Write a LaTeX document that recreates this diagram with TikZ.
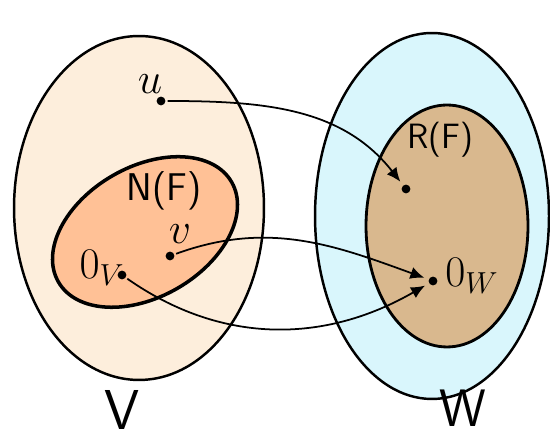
\documentclass[tikz,border=0pt]{standalone}
\usetikzlibrary{shapes.geometric,arrows.meta}
\definecolor{vfill}{HTML}{FDEEDC}
\definecolor{nfill}{HTML}{FFC196}
\definecolor{wfill}{HTML}{D9F6FC}
\definecolor{rfill}{HTML}{D9B88E}
\begin{document}
\begin{tikzpicture}[x=0.02cm,y=0.02cm,
  setell/.style={ellipse,draw=black,inner sep=0pt},
  pt/.style={circle,fill=black,inner sep=0pt,minimum size=5pt},
  maparrow/.style={draw=black,line width=1pt,-{Latex[length=8pt,width=7pt]},shorten >=2.5pt,shorten <=1pt},
  lab/.style={inner sep=0pt,text=black}]
\useasboundingbox (0,0) rectangle (550,438);
\fill[white] (0,0) rectangle (550,438);
% sets
\node[setell,fill=vfill,line width=1.4pt,minimum width=5cm,minimum height=6.88cm] (V) at (139,230) {};
\node[setell,fill=wfill,line width=1.4pt,minimum width=4.68cm,minimum height=7.32cm] (W) at (432,222) {};
\node[setell,fill=nfill,line width=2pt,minimum width=4cm,minimum height=2.6cm,rotate=30] (N) at (145,206) {};
\node[setell,fill=rfill,line width=1.6pt,minimum width=3.24cm,minimum height=4.84cm] (R) at (447,212) {};
% points
\node[pt] (u) at (161,337) {};
\node[pt] (r) at (406,249) {};
\node[pt] (v) at (170,182) {};
\node[pt] (zv) at (122,163) {};
\node[pt] (zw) at (433,157) {};
% labels
\node[lab,font=\fontsize{26}{28}\selectfont] (ul) at (150,354) {$u$};
\node[lab,font=\fontsize{24}{26}\selectfont] (vl) at (180,204) {$v$};
\node[lab,font=\fontsize{24}{26}\selectfont] (zvl) at (102,170) {$0_V$};
\node[lab,font=\fontsize{24}{26}\selectfont] (zwl) at (472,162) {$0_W$};
\node[lab,font=\sffamily\fontsize{22}{24}\selectfont] (Nl) at (164,247) {N(F)};
\node[lab,font=\sffamily\fontsize{20}{22}\selectfont] (Rl) at (440,298) {R(F)};
\node[lab,font=\sffamily\fontsize{32}{34}\selectfont] (Vl) at (122,28) {V};
\node[lab,font=\sffamily\fontsize{30}{32}\selectfont] (Wl) at (463,30) {W};
% maps
\draw[maparrow] (u) to[out=0,in=128] (r);
\draw[maparrow] (v) to[out=20,in=160] (zw);
\draw[maparrow] (zv) to[out=-35,in=-150] (zw);
\end{tikzpicture}
\end{document}
